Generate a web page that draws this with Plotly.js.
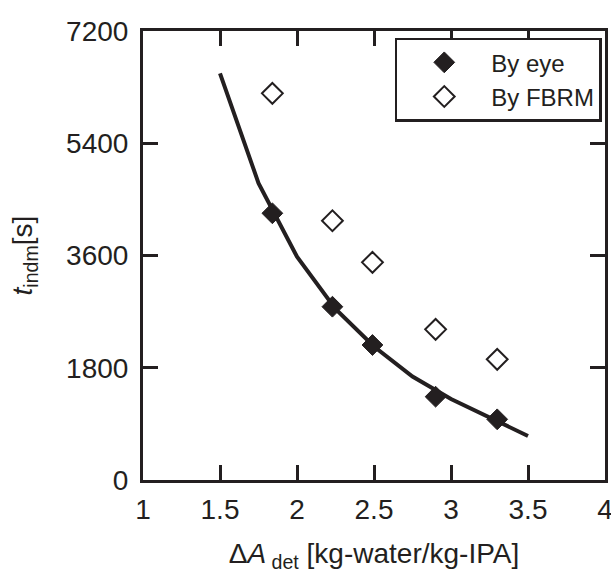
<!DOCTYPE html>
<html>
<head>
<meta charset="utf-8">
<script src="https://cdn.plot.ly/plotly-3.0.1.min.js"></script>
<style>html,body{margin:0;padding:0;background:#fff;}#chart{width:611px;height:574px;}</style>
</head>
<body>
<div id="chart"></div>
<script>
// Model curve
var curveX = [1.5, 1.75, 2.0, 2.25, 2.5, 2.75, 3.0, 3.25, 3.5];
var curveY = [6520, 4760, 3580, 2745, 2140, 1660, 1300, 1005, 706];
// Measured: by eye
var eyeX = [1.84, 2.23, 2.49, 2.90, 3.30];
var eyeY = [4277, 2779, 2165, 1336, 973];
// Measured: by FBRM
var fbrmX = [1.84, 2.23, 2.49, 2.90, 3.30];
var fbrmY = [6200, 4158, 3490, 2416, 1935];
// Tick labels
var xTicks = [1, 1.5, 2, 2.5, 3, 3.5, 4];
var xTickText = ['1', '1.5', '2', '2.5', '3', '3.5', '4'];
var yTicks = [0, 1800, 3600, 5400, 7200];
var yTickText = ['0', '1800', '3600', '5400', '7200'];

var ink = '#231f20';
var fam = 'Liberation Sans, Arial, sans-serif';

var traces = [
  {x: curveX, y: curveY, mode: 'lines', line: {color: ink, width: 4}, showlegend: false, hoverinfo: 'skip'},
  {x: eyeX, y: eyeY, mode: 'markers', name: 'By eye',
   marker: {symbol: 'diamond', size: 16, color: ink, line: {color: ink, width: 1}}},
  {x: fbrmX, y: fbrmY, mode: 'markers', name: 'By FBRM',
   marker: {symbol: 'diamond-open', size: 16, color: ink, line: {color: ink, width: 2}}}
];

var layout = {
  width: 611, height: 574,
  margin: {l: 143, r: 6, t: 31, b: 94},
  paper_bgcolor: '#fff', plot_bgcolor: '#fff',
  font: {family: fam, color: ink},
  xaxis: {
    showgrid: false, zeroline: false, showline: true, linecolor: ink, linewidth: 3,
    mirror: 'ticks', ticks: 'inside', ticklen: 15, tickwidth: 3, tickcolor: ink,
    tickfont: {family: fam, size: 28, color: ink}, ticklabeloverflow: 'allow', ticklabelstandoff: 2,
    tickmode: 'array', range: [1, 4], tickvals: xTicks, ticktext: xTickText,
    title: {text: 'Δ<i>A</i><sub> det</sub> [kg-water/kg-IPA]', font: {family: fam, size: 28, color: ink}, standoff: 20}
  },
  yaxis: {
    showgrid: false, zeroline: false, showline: true, linecolor: ink, linewidth: 3,
    mirror: 'ticks', ticks: 'inside', ticklen: 15, tickwidth: 3, tickcolor: ink,
    tickfont: {family: fam, size: 28, color: ink}, ticklabeloverflow: 'allow', ticklabelstandoff: 6,
    tickmode: 'array', range: [0, 7200], tickvals: yTicks, ticktext: yTickText,
    title: {text: '<i>t</i><sub>indm</sub>[s]', font: {family: fam, size: 28, color: ink}, standoff: 26}
  },
  legend: {
    x: 0.993, y: 0.985, xanchor: 'right', yanchor: 'top',
    bgcolor: '#fff', bordercolor: ink, borderwidth: 2.5,
    font: {family: fam, size: 24, color: ink}, itemwidth: 84
  },
  showlegend: true
};

Plotly.newPlot('chart', traces, layout, {displayModeBar: false, staticPlot: true});
</script>
</body>
</html>
